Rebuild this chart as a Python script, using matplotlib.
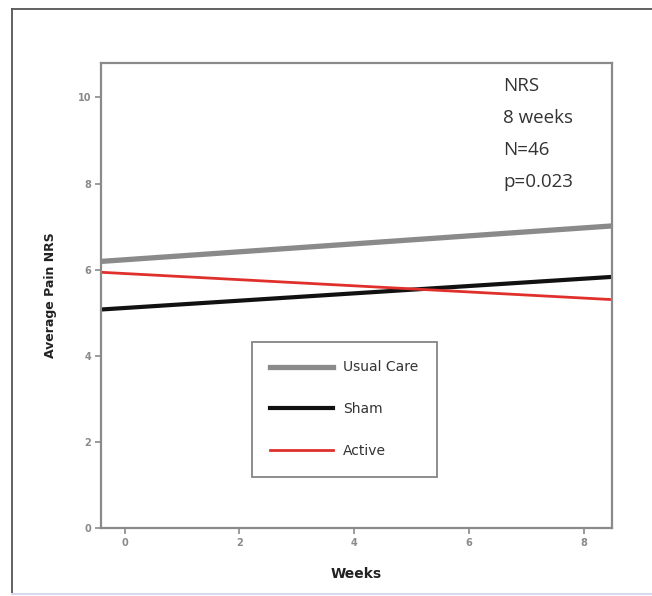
import matplotlib
matplotlib.use("Agg")
import matplotlib.pyplot as plt
from matplotlib.lines import Line2D

# fitted lines: average pain NRS at week 0 and week 8
weeks = [0, 8]
usual_care = [6.23, 6.97]
sham = [5.11, 5.79]
active = [5.91, 5.34]

groups = ["Usual Care", "Sham", "Active"]
colors = ["#8a8a8a", "#111111", "#e0302c"]
widths = [3.8, 3.0, 2.0]
series = [usual_care, sham, active]

x_ticks = [0, 2, 4, 6, 8]
y_ticks = [0, 2, 4, 6, 8, 10]
note = ["NRS", "8 weeks", "N=46", "p=0.023"]

W, H = 652, 596
fig = plt.figure(figsize=(W / 100, H / 100), dpi=100)

# outer frame of the screenshot
fig.add_artist(Line2D([12 / W, 12 / W], [2 / H, 1 - 9 / H], color="#555555", lw=1.3))
fig.add_artist(Line2D([12 / W, 1.0], [1 - 9 / H, 1 - 9 / H], color="#555555", lw=1.3))
fig.add_artist(Line2D([12 / W, 1.0], [2 / H, 2 / H], color="#d8d8ee", lw=1.5))

ax = fig.add_axes([100.7 / W, 1 - 528 / H, (612.3 - 100.7) / W, (528 - 63) / H])

for name, vals, c, lw in zip(groups, series, colors, widths):
    ax.axline((weeks[0], vals[0]), (weeks[1], vals[1]), color=c, lw=lw,
              solid_capstyle="butt")

ax.set_xlim(-0.42, 8.5)
ax.set_ylim(0, 10.8)
ax.set_xticks(x_ticks)
ax.set_yticks(y_ticks)

for s in ax.spines.values():
    s.set_color("#8a8a8a")
    s.set_linewidth(1.6)
ax.tick_params(direction="out", length=4, width=1.2, color="#8a8a8a",
               labelsize=7, labelcolor="#8a8a8a", pad=3)
for lab in ax.get_xticklabels() + ax.get_yticklabels():
    lab.set_fontweight("bold")

ax.set_xlabel("Weeks", fontsize=10, fontweight="bold", color="#222222", labelpad=14)
ax.set_ylabel("Average Pain NRS", fontsize=9, fontweight="bold", color="#222222", labelpad=15)

handles = [Line2D([], [], color=c, lw=lw) for c, lw in zip(colors, widths)]
leg = fig.legend(handles, groups, loc="upper left",
                 bbox_to_anchor=(251.7 / W, 1 - 341.7 / H),
                 fontsize=10, frameon=True, fancybox=False,
                 handlelength=4.5, handletextpad=0.7, labelspacing=2.0,
                 borderpad=1.35, borderaxespad=0)
leg.get_frame().set_edgecolor("#666666")
leg.get_frame().set_linewidth(1.3)
for t in leg.get_texts():
    t.set_color("#333333")

for i, line in enumerate(note):
    fig.text(503 / W, 1 - (86 + 32 * i) / H, line, fontsize=13.5,
             family="Open Sans", color="#333333", va="center", ha="left")

fig.savefig("out.png", dpi=100)
